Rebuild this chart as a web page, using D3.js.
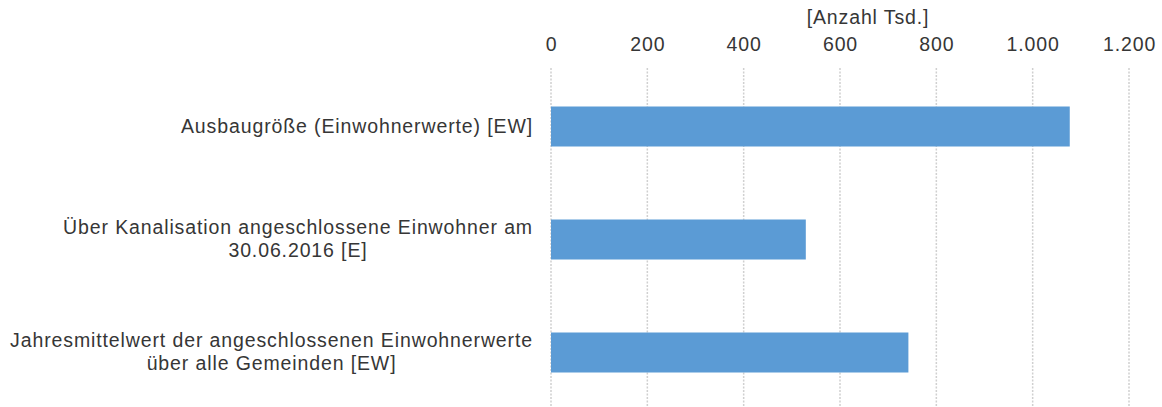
<!DOCTYPE html>
<html><head><meta charset="utf-8">
<script src="https://cdn.jsdelivr.net/npm/d3@7"></script>
<style>body{margin:0;background:#fff}svg{display:block}</style>
</head><body>
<svg id="c" width="1162" height="407"></svg>
<script>
const categories = [
  ["Ausbaugröße (Einwohnerwerte) [EW]"],
  ["Über Kanalisation angeschlossene Einwohner am", "30.06.2016 [E]"],
  ["Jahresmittelwert der angeschlossenen Einwohnerwerte", "über alle Gemeinden [EW]"]
];
const values = [1077, 529, 742];
const tickValues = [0, 200, 400, 600, 800, 1000, 1200];
const axisTitle = "[Anzahl Tsd.]";

const svg = d3.select("#c");
const font = "'Liberation Sans', Arial, sans-serif";
const fs = 19.5, ls = 0.88;
const textColor = "#363636";
const x = d3.scaleLinear().domain([0, 1200]).range([551, 1129]);
const y = d3.scaleBand().domain(d3.range(categories.length)).range([70, 409]).paddingInner(0.646).paddingOuter(0.323);

// gridlines
svg.append("g").selectAll("line").data(tickValues).join("line")
  .attr("x1", d => x(d)).attr("x2", d => x(d))
  .attr("y1", 68).attr("y2", 407)
  .attr("stroke", "#d0d0d0").attr("stroke-width", 1.5)
  .attr("stroke-dasharray", "2,1.5");

// bars
svg.append("g").selectAll("rect").data(values).join("rect")
  .attr("x", x(0)).attr("y", (d, i) => y(i))
  .attr("width", d => x(d) - x(0)).attr("height", y.bandwidth())
  .attr("fill", "#5B9BD5");

// top axis
const axis = d3.axisTop(x).tickValues(tickValues).tickSize(0).tickPadding(0)
  .tickFormat(d => d3.format(",")(d).replace(/,/g, "."));
const ag = svg.append("g").attr("transform", "translate(0,51)").call(axis);
ag.select(".domain").remove();
ag.selectAll("text").attr("font-family", font).attr("font-size", fs)
  .attr("letter-spacing", ls).attr("fill", textColor);

svg.append("text").attr("x", 868).attr("y", 24)
  .attr("text-anchor", "middle").attr("font-family", font).attr("font-size", fs)
  .attr("letter-spacing", ls).attr("fill", textColor).text(axisTitle);

// category labels
const rightEdge = 533;
const lineH = 23;
categories.forEach((lines, i) => {
  const g = svg.append("g");
  const cy = y(i) + y.bandwidth() / 2;
  const texts = lines.map((l, j) => g.append("text")
    .attr("font-family", font).attr("font-size", fs).attr("letter-spacing", ls)
    .attr("fill", textColor)
    .attr("text-anchor", "middle")
    .attr("y", cy + (j - (lines.length - 1) / 2) * lineH + 6)
    .text(l));
  const maxW = d3.max(texts, t => t.node().getComputedTextLength());
  texts.forEach(t => t.attr("x", rightEdge - maxW / 2));
});
</script>
</body></html>
